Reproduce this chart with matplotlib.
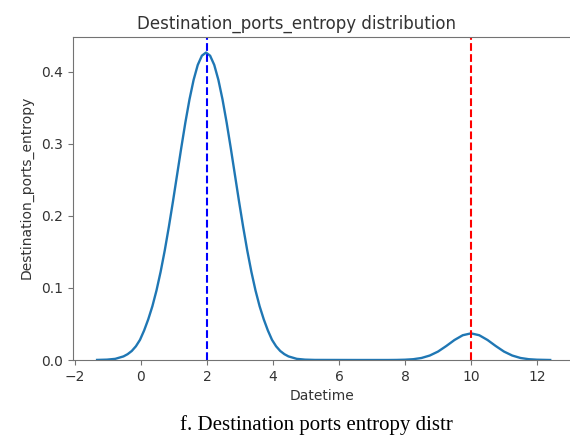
import matplotlib
matplotlib.use('Agg')
import matplotlib.pyplot as plt

# density curve (x = Destination_ports_entropy value)
kde_x = [-1.33, -1.03, -0.78, -0.53, -0.405, -0.28, -0.155, -0.03, 0.095, 0.22,
         0.345, 0.47, 0.595, 0.72, 0.845, 0.97, 1.095, 1.22, 1.345, 1.47,
         1.595, 1.72, 1.845, 1.97, 2.095, 2.22, 2.345, 2.47, 2.595, 2.72,
         2.845, 2.97, 3.095, 3.22, 3.345, 3.47, 3.595, 3.72, 3.845, 3.97,
         4.095, 4.22, 4.345, 4.47, 4.72, 4.97, 5.27, 6.5, 7.5, 7.75,
         8.0, 8.25, 8.5, 8.75, 9.0, 9.25, 9.5, 9.75, 10.0, 10.25,
         10.5, 10.75, 11.0, 11.25, 11.5, 11.75, 12.0, 12.4]
kde_y = [0.0001, 0.0005, 0.0016, 0.0050, 0.0081, 0.0125, 0.0190, 0.0280, 0.0410, 0.0565,
         0.0746, 0.0966, 0.1225, 0.1521, 0.1851, 0.2205, 0.2575, 0.2945, 0.3299, 0.3620,
         0.3891, 0.4098, 0.4226, 0.4270, 0.4226, 0.4098, 0.3891, 0.3620, 0.3299, 0.2945,
         0.2575, 0.2205, 0.1851, 0.1521, 0.1225, 0.0966, 0.0746, 0.0565, 0.0410, 0.0280,
         0.0190, 0.0125, 0.0081, 0.0050, 0.0016, 0.0005, 0.0001, 0.0, 0.0, 0.0001,
         0.0004, 0.0011, 0.0028, 0.0062, 0.0117, 0.0194, 0.0278, 0.0344, 0.0370, 0.0344,
         0.0278, 0.0194, 0.0117, 0.0062, 0.0028, 0.0011, 0.0004, 0.0]

# vertical reference lines
blue_line = 2
red_line = 10

x_ticks = [-2, 0, 2, 4, 6, 8, 10, 12]
y_ticks = [0.0, 0.1, 0.2, 0.3, 0.4]

fig = plt.figure(figsize=(5.7, 4.37), dpi=100)
ax = fig.add_axes([73/570, 77/437, 498/570, 323/437])

ax.plot(kde_x, kde_y, color='#1f77b4', lw=1.7)
ax.axvline(blue_line, color='blue', ls='--', lw=1.5)
ax.axvline(red_line, color='red', ls='--', lw=1.5)

ax.set_xlim(-2.06, 13.03)
ax.set_ylim(0, 0.4486)
ax.set_xticks(x_ticks)
ax.set_xticklabels(['\u22122' if t < 0 else str(t) for t in x_ticks])
ax.set_yticks(y_ticks)

for s in ax.spines.values():
    s.set_color('0.45')
ax.tick_params(colors='0.45', labelcolor='0.2', labelsize=10)

ax.set_title('Destination_ports_entropy distribution', x=0.448, fontsize=12, color='0.2')
ax.set_xlabel('Datetime', fontsize=10, color='0.2')
ax.set_ylabel('Destination_ports_entropy', fontsize=10, color='0.2')
ax.yaxis.set_label_coords(-0.08, 0.534)

fig.text(0.555, 0.027, 'f. Destination ports entropy distr', ha='center', va='center',
         family='Liberation Serif', fontsize=15)

fig.savefig('out.png', dpi=100)
